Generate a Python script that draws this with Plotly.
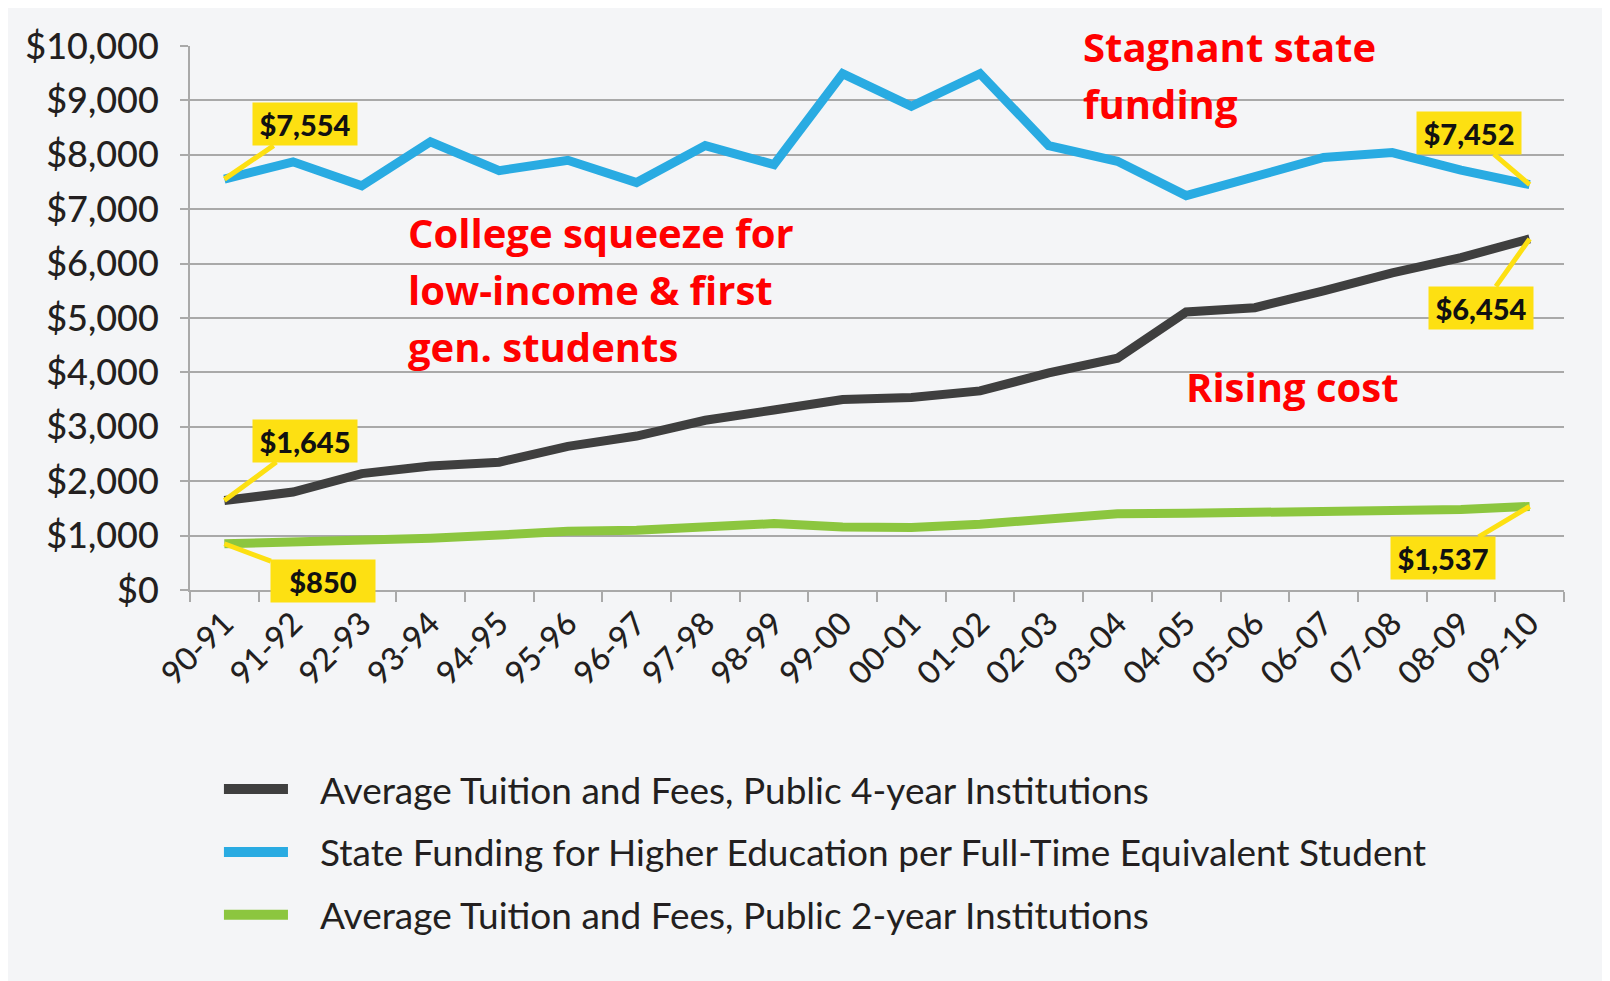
import plotly.graph_objects as go

# Datos
years = ["90-91", "91-92", "92-93", "93-94", "94-95", "95-96", "96-97", "97-98",
         "98-99", "99-00", "00-01", "01-02", "02-03", "03-04", "04-05", "05-06",
         "06-07", "07-08", "08-09", "09-10"]

tuition_4yr = [1645, 1800, 2140, 2280, 2350, 2640, 2830, 3120, 3310, 3500,
               3540, 3660, 3990, 4260, 5110, 5190, 5500, 5830, 6110, 6454]
state_funding = [7554, 7870, 7430, 8240, 7710, 7900, 7490, 8170, 7820, 9490,
                 8890, 9490, 8170, 7880, 7250, 7580, 7950, 8040, 7720, 7452]
tuition_2yr = [850, 870, 890, 950, 1010, 1080, 1100, 1160, 1220, 1160,
               1150, 1210, 1290, 1400, 1410, 1420, 1470, 1470, 1480, 1537]

names = ["Average Tuition and Fees, Public 4-year Institutions",
         "State Funding for Higher Education per Full-Time Equivalent Student",
         "Average Tuition and Fees, Public 2-year Institutions"]
colors = ["#3f3f3f", "#29abe2", "#8cc63f"]
series = [tuition_4yr, state_funding, tuition_2yr]

y_ticks = list(range(0, 10001, 1000))
y_labels = ["${:,}".format(v) for v in y_ticks]

GRAY_BG = "#f4f5f7"
GRID = "#a9a9a9"
YELLOW = "#fde012"

fig = go.Figure()
for name, color, vals in zip(names, colors, series):
    fig.add_trace(go.Scatter(x=years, y=vals, name=name, mode="lines",
                             line=dict(color=color, width=9), showlegend=False))

# Globos amarillos con valores
callouts = [
    (0, state_funding[0], 81, -55),
    (0, tuition_4yr[0], 81, -60),
    (0, tuition_2yr[0], 99, 37),
    (19, state_funding[19], -61, -52),
    (19, tuition_4yr[19], -49, 69),
    (19, tuition_2yr[19], -87, 52),
]
for i, val, ax, ay in callouts:
    fig.add_annotation(x=years[i], y=val, text="${:,}".format(val),
                       ax=ax, ay=ay, showarrow=True, arrowhead=0,
                       arrowwidth=5, arrowcolor=YELLOW, standoff=0,
                       bgcolor=YELLOW, width=96, height=34, borderpad=4,
                       font=dict(family="Lato", size=29, color="#111111", weight=900))

# Textos en rojo
red = dict(family="Open Sans", size=40, color="#ff0000")
notes = [
    ("Stagnant state", 0.6485, 1.0),
    ("funding", 0.6485, 0.895),
    ("College squeeze for", 0.157, 0.658),
    ("low-income & first", 0.157, 0.553),
    ("gen. students", 0.157, 0.4485),
    ("Rising cost", 0.7234, 0.375),
]
for txt, x, y in notes:
    fig.add_annotation(x=x, y=y, xref="paper", yref="paper", text="<b>" + txt + "</b>",
                       showarrow=False, xanchor="left", yanchor="middle", font=red)

# Leyenda manual
legend_y = [-0.366, -0.4816, -0.597]
for name, color, ly in zip(names, colors, legend_y):
    fig.add_shape(type="line", xref="paper", yref="paper", x0=0.0247, x1=0.0713,
                  y0=ly, y1=ly, line=dict(color=color, width=10))
    fig.add_annotation(x=0.0932, y=ly, xref="paper", yref="paper", text=name,
                       showarrow=False, xanchor="left", yanchor="middle",
                       font=dict(family="Lato", size=37, color="#231f20"))

fig.update_layout(
    width=1610, height=981,
    margin=dict(l=182, r=54, t=38, b=399),
    paper_bgcolor=GRAY_BG, plot_bgcolor=GRAY_BG,
    showlegend=False,
    xaxis=dict(type="category", range=[-0.5, len(years) - 0.5], tickson="boundaries",
               tickangle=-45, showgrid=False, showline=True, linecolor=GRID, linewidth=2,
               ticks="outside", ticklen=10, tickwidth=2, tickcolor=GRID,
               tickfont=dict(family="Lato", size=32, color="#231f20", weight=500)),
    yaxis=dict(range=[0, 10000], tickvals=y_ticks, ticktext=y_labels,
               showgrid=True, gridcolor=GRID, gridwidth=2, zeroline=False,
               showline=True, linecolor=GRID, linewidth=2,
               ticks="outside", ticklen=8, tickwidth=2, tickcolor=GRID,
               ticklabelstandoff=14,
               tickfont=dict(family="Lato", size=36, color="#231f20", weight=500)),
)

fig.write_html("out.html")
